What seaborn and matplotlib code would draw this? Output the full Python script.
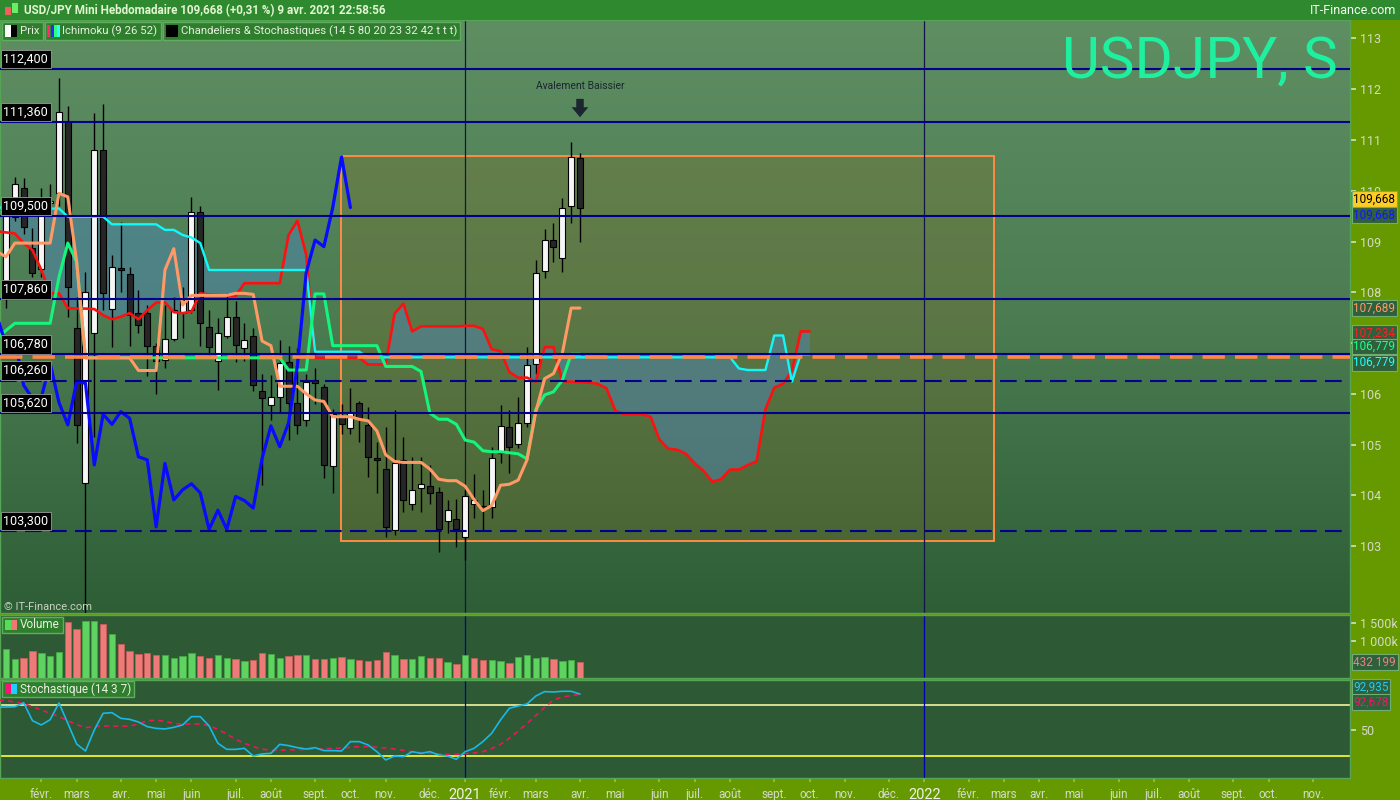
import numpy as np
import pandas as pd
import matplotlib
matplotlib.use("Agg")
import matplotlib.pyplot as plt
from matplotlib.patches import Rectangle
from matplotlib.colors import LinearSegmentedColormap
import seaborn as sns

#------------------------ DONNEES (bougies hebdo, 1re = semaine du 6 janv. 2020)
first_week = "2020-01-06"

opens = [108.1, 109.49, 110.05, 108.87, 108.45, 109.75, 109.95, 111.36, 107.3, 104.25,
         107.2, 110.8, 107.68, 108.45, 108.37, 107.6, 107.6, 106.95, 106.67, 107.09,
         107.6, 107.65, 109.59, 107.32, 106.65, 107.14, 107.51, 106.9, 107.14, 106.06,
         105.78, 105.94, 106.63, 105.83, 105.49, 106.27, 106.14, 104.57, 105.55, 105.32,
         105.83, 105.39, 104.72, 104.53, 103.32, 104.7, 103.84, 104.14, 104.19, 104.07,
         103.5, 103.54, 103.19, 103.83, 103.79, 103.78, 104.83, 105.34, 105.01, 105.42,
         106.59, 108.42, 109.03, 108.67, 109.71, 110.64]
highs = [109.7, 110.28, 110.25, 109.26, 110.05, 110.13, 112.22, 111.67, 107.9, 108.4,
         111.53, 111.71, 108.74, 109.39, 108.5, 108.05, 107.75, 107.0, 107.75, 107.9,
         108.1, 109.87, 109.7, 107.65, 107.5, 107.98, 107.82, 107.4, 107.3, 106.4,
         106.37, 107.06, 106.95, 106.9, 106.4, 106.5, 106.2, 105.7, 105.8, 106.11,
         105.85, 105.75, 105.06, 105.35, 105.68, 105.16, 104.76, 104.76, 104.6, 104.17,
         103.91, 103.92, 104.1, 104.42, 104.1, 104.96, 105.78, 105.68, 105.94, 106.93,
         108.64, 109.24, 109.36, 109.85, 110.97, 110.74]
lows = [107.7, 109.4, 109.15, 108.3, 108.3, 109.55, 109.7, 107.52, 105.03, 101.2,
        105.16, 107.65, 106.93, 108.0, 106.95, 107.2, 106.35, 106.0, 106.5, 107.05,
        107.1, 107.6, 106.95, 106.73, 106.08, 107.1, 106.63, 106.65, 106.05, 104.2,
        105.49, 105.62, 105.09, 105.2, 105.36, 105.8, 104.35, 104.04, 105.2, 105.2,
        105.06, 104.37, 104.04, 103.19, 103.22, 103.68, 103.71, 103.68, 103.84, 102.89,
        103.25, 102.98, 102.73, 103.55, 103.32, 103.55, 104.63, 104.44, 104.93, 105.35,
        106.4, 108.28, 108.6, 108.41, 109.37, 109.0]
closes = [109.5, 110.13, 109.29, 108.38, 109.77, 109.8, 111.56, 108.11, 105.39, 108.0,
          110.8, 107.99, 108.5, 108.44, 107.55, 107.35, 106.95, 106.65, 107.09, 107.65,
          107.85, 109.59, 107.4, 106.93, 107.2, 107.52, 106.96, 107.06, 106.17, 105.91,
          105.93, 106.6, 105.83, 105.39, 106.24, 106.21, 104.6, 105.6, 105.4, 105.65,
          105.52, 104.76, 104.7, 103.38, 104.63, 103.91, 104.11, 104.23, 104.05, 103.33,
          103.71, 103.33, 103.98, 103.9, 103.75, 104.73, 105.37, 104.96, 105.43, 106.56,
          108.39, 109.03, 108.9, 109.67, 110.67, 109.67]

# volume en milliers
volumes_k = [790, 526, 553, 737, 684, 596, 710, 1526, 1342, 1553,
             1553, 1474, 1211, 921, 737, 658, 684, 632, 632, 553,
             605, 684, 605, 553, 632, 553, 526, 474, 500, 684,
             658, 553, 605, 632, 632, 526, 526, 553, 579, 526,
             500, 474, 500, 710, 632, 526, 526, 605, 553, 553,
             447, 368, 632, 553, 500, 500, 474, 421, 579, 632,
             553, 579, 526, 474, 500, 432]

# Ichimoku, semaine -1 .. 65
tenkan = [108.8, 108.7, 108.97, 108.97, 108.97, 108.97, 108.97, 109.95, 109.88, 108.6,
          106.71, 106.71, 106.71, 106.71, 106.71, 106.71, 106.46, 106.46, 106.46, 108.44,
          108.86, 107.75, 107.94, 107.94, 107.94, 107.94, 107.94, 107.98, 107.98, 107.96,
          107.04, 106.95, 106.15, 106.15, 106.15, 106.0, 105.88, 105.85, 105.55, 105.55,
          105.55, 105.5, 105.47, 105.27, 104.8, 104.67, 104.65, 104.65, 104.65, 104.52,
          104.32, 104.29, 104.29, 104.18, 103.92, 103.7, 103.8, 104.2, 104.22, 104.3,
          104.7, 105.65, 106.3, 106.4, 106.8, 107.69, 107.69]
kijun = ([107.1, 107.25, 107.39, 107.39, 107.39, 107.39, 107.39, 108.3, 108.97, 108.6]
         + [106.71] * 23 + [106.47] * 3 + [107.97] * 2 + [106.95] * 6 + [106.54] * 4
         + [106.44, 105.62, 105.5, 105.5, 105.4, 105.09, 105.05, 104.88, 104.86, 104.86,
            104.84, 104.82, 104.72, 105.69, 105.98, 106.04, 106.27, 106.78, 106.78])

# nuage, semaine -1 .. 91
senkou_a = [109.2, 109.18, 109.16, 108.97, 108.83, 108.44, 107.98, 107.98, 107.69, 107.68,
            107.68, 107.67, 107.55, 107.47, 107.52, 107.59, 107.47, 107.65, 107.8, 107.8,
            107.61, 107.59, 107.62, 107.98, 107.96, 107.95, 107.94, 107.93, 108.18, 108.18,
            108.18, 108.18, 108.18, 109.13, 109.41, 108.74,
            106.71, 106.71, 106.71, 106.71, 106.71, 106.71, 106.58, 106.58, 106.58, 107.58,
            107.78, 107.23, 107.33, 107.33, 107.33, 107.33, 107.33, 107.34, 107.34, 107.28,
            106.88, 106.84, 106.43, 106.32, 106.32, 106.24, 106.92, 106.92, 106.25, 106.24,
            106.23, 106.22, 106.2, 106.11, 105.67, 105.6, 105.6, 105.6, 105.55, 105.1,
            104.92, 104.9, 104.82, 104.63, 104.48, 104.27, 104.32, 104.51, 104.51, 104.6,
            104.67, 105.7, 106.12, 106.2, 106.45, 107.23, 107.23]
senkou_b = ([109.67] * 6 + [109.65] * 2 + [109.49] * 5 + [109.34] * 6 + [109.23] * 2
            + [109.13, 109.08, 108.97] + [108.44] * 12 + [106.83] * 6 + [106.72] * 42
            + [106.5, 106.47, 106.47, 106.47, 107.15, 107.15, 106.24, 106.78, 106.78])

# stochastique, semaine -1 .. 65
stoch_k = [77.2, 77.6, 77.9, 82.6, 61.5, 56.5, 62.7, 82.4, 58.4, 34.1, 25.9,
           50.6, 70.2, 71.0, 64.3, 63.1, 60.0, 54.5, 52.5, 51.8, 53.7,
           56.5, 66.3, 66.3, 55.3, 34.9, 27.8, 27.8, 29.0, 20.0, 22.4,
           23.1, 33.7, 32.2, 29.8, 28.2, 29.8, 26.3, 26.3, 25.9, 36.9,
           36.9, 33.0, 25.1, 15.3, 20.0, 19.2, 25.1, 23.1, 25.1, 21.2,
           20.0, 16.1, 25.1, 29.0, 36.9, 46.7, 62.4, 76.1, 78.8, 81.2,
           90.6, 95.7, 95.3, 96.1, 96.1, 92.9]
stoch_d = [86.0, 85.1, 83.5, 81.5, 78.0, 74.1, 70.2, 66.3, 61.6, 56.9, 53.3,
           54.5, 55.3, 55.3, 54.9, 55.3, 57.6, 61.6, 62.0, 60.8, 58.4,
           57.3, 57.6, 57.6, 55.7, 51.3, 45.9, 39.6, 34.9, 31.0, 28.2,
           26.7, 26.7, 27.1, 27.5, 27.8, 28.2, 28.6, 29.0, 29.4, 30.2,
           31.0, 31.0, 30.2, 29.4, 28.2, 26.7, 25.1, 23.9, 23.1, 22.4,
           22.0, 22.0, 22.7, 23.5, 25.1, 28.6, 33.7, 40.8, 49.4, 58.4,
           67.5, 77.3, 85.9, 89.4, 91.0, 92.7]

levels_solid = [112.40, 111.36, 109.50, 107.86, 106.78, 105.62]
levels_dashed = [106.26, 103.30]
level_orange = 106.72
box_weeks = [37.9, 111.9]
box_prices = [103.1, 110.69]
last_price = 109.668

price_ticks = list(range(103, 114))
price_tick_labels = ["103", "104", "105", "106", "", "108", "109", "110", "111", "112", "113"]

month_names = {2: "févr.", 3: "mars", 4: "avr.", 5: "mai", 6: "juin", 7: "juil.",
               8: "août", 9: "sept.", 10: "oct.", 11: "nov.", 12: "déc."}

#------------------------ AXE DES TEMPS (1re bougie de chaque mois)
t0 = pd.Timestamp(first_week)
tick_pos, tick_lab = [], []
for m in pd.date_range("2020-02-01", "2022-11-01", freq="MS"):
    monday = m + pd.Timedelta(days=(7 - m.weekday()) % 7)
    tick_pos.append((monday - t0).days / 7)
    tick_lab.append(str(m.year) if m.month == 1 else month_names[m.month])
year_pos = [p for p, l in zip(tick_pos, tick_lab) if l.isdigit()]

#------------------------ FIGURE
sns.set_theme(style="dark")
plt.rcParams["font.family"] = ["Roboto", "DejaVu Sans"]

W, H = 1400, 800
fig = plt.figure(figsize=(W / 100, H / 100), dpi=100, facecolor="#669900")


def rect(x0, y0, x1, y1):
    return [x0 / W, 1 - y1 / H, (x1 - x0) / W, (y1 - y0) / H]


ax_p = fig.add_axes(rect(0, 20, 1350, 613))
ax_v = fig.add_axes(rect(0, 615, 1350, 678), sharex=ax_p)
ax_s = fig.add_axes(rect(0, 680, 1350, 778), sharex=ax_p)

x_lo, x_hi = -0.68, 152.2
y_lo, y_hi = 101.684, 113.364

# fond dégradé
bg = LinearSegmentedColormap.from_list("bg", ["#2e5e36", "#4c7c52", "#5e8e62"])
ax_p.imshow(np.linspace(0, 1, 256).reshape(-1, 1), cmap=bg, aspect="auto", origin="lower",
            extent=(x_lo, x_hi, y_lo, y_hi), zorder=0, interpolation="bilinear")

# rectangle orange
ax_p.add_patch(Rectangle((box_weeks[0], box_prices[0]), box_weeks[1] - box_weeks[0],
                         box_prices[1] - box_prices[0], fc="#8f6a1c", alpha=0.24,
                         ec="none", zorder=1))
ax_p.add_patch(Rectangle((box_weeks[0], box_prices[0]), box_weeks[1] - box_weeks[0],
                         box_prices[1] - box_prices[0], fill=False, ec="#ff8c42",
                         lw=1.4, zorder=1.5))

# nuage
n_cloud = min(len(senkou_a), len(senkou_b))
x_cloud = np.arange(n_cloud) - 1
sa = np.array(senkou_a[:n_cloud])
sb = np.array(senkou_b[:n_cloud])
ax_p.fill_between(x_cloud, sa, sb, color="#4e86b6", alpha=0.5, lw=0, zorder=2)

# bougies
o, h, l, c = map(np.array, (opens, highs, lows, closes))
xc = np.arange(len(c))
up = c >= o
ax_p.vlines(xc, l, h, color="black", lw=1, zorder=3)
ax_p.bar(xc, np.maximum(np.abs(c - o), 0.03), bottom=np.minimum(o, c), width=0.68,
         color=np.where(up, "#f6f6f6", "#262626"), edgecolor="black", linewidth=0.8, zorder=3.2)

# lignes Ichimoku
sns.lineplot(x=x_cloud, y=sa, ax=ax_p, color="#ff1010", lw=1.9, sort=False, estimator=None, zorder=4)
sns.lineplot(x=x_cloud, y=sb, ax=ax_p, color="#10f8f8", lw=1.7, sort=False, estimator=None, zorder=4)
sns.lineplot(x=np.arange(len(kijun)) - 1, y=kijun, ax=ax_p, color="#14f57c", lw=2.2,
             sort=False, estimator=None, zorder=4.2)
sns.lineplot(x=np.arange(len(tenkan)) - 1, y=tenkan, ax=ax_p, color="#ff9a66", lw=2.2,
             sort=False, estimator=None, zorder=4.3)
chikou = closes[25:]
sns.lineplot(x=np.arange(len(chikou)) - 1, y=chikou, ax=ax_p, color="#0a0aff", lw=2.3,
             sort=False, estimator=None, zorder=4.4)

# niveaux
ax_p.axhline(level_orange, color="#ff8844", lw=2.6, ls=(0, (6.2, 2.8)), zorder=5)
for lv in levels_solid:
    ax_p.axhline(lv, color="#000090", lw=1.5, zorder=6)
for lv in levels_dashed:
    ax_p.axhline(lv, color="#000090", lw=1.5, ls=(0, (8, 4)), zorder=6)
for lv in levels_solid + levels_dashed:
    ax_p.annotate(f"{lv:.3f}".replace(".", ","), xy=(0, lv), xycoords=("axes fraction", "data"),
                  xytext=(2.5, 2.5), textcoords="offset points", ha="left", va="bottom",
                  fontsize=9, color="white", zorder=8,
                  bbox=dict(boxstyle="square,pad=0.22", fc="black", ec="#9a9a9a", lw=0.6))

# volume
prev = np.r_[c[0] - 1, c[:-1]]
vol_col = np.where(c >= prev, "#5fd35f", "#ee7b78")
ax_v.set_facecolor("#2d5934")
ax_v.bar(xc, volumes_k, width=0.72, color=vol_col, edgecolor=np.where(c >= prev, "#43a843", "#c45e5b"),
         linewidth=0.6, zorder=3)

# stochastique
ax_s.set_facecolor("#2d5934")
ax_s.axhline(80, color="#f3f3a0", lw=1.2, zorder=2)
ax_s.axhline(20, color="#ffff33", lw=1.2, zorder=2)
sns.lineplot(x=np.arange(len(stoch_d)) - 1, y=stoch_d, ax=ax_s, color="#f0145a", lw=1.2,
             ls=(0, (3, 2.5)), sort=False, estimator=None, zorder=3)
sns.lineplot(x=np.arange(len(stoch_k)) - 1, y=stoch_k, ax=ax_s, color="#1ab8e8", lw=1.2,
             sort=False, estimator=None, zorder=4)

# séparateurs d'années
for ax, col in ((ax_p, "#14144a"), (ax_v, "#0000b0"), (ax_s, "#0000b0")):
    for yp in year_pos:
        ax.axvline(yp, color=col, lw=0.9, zorder=2.5)

#------------------------ AXES
lab_col = "#d4dac8"
for ax in (ax_p, ax_v, ax_s):
    ax.grid(False)
    for s in ax.spines.values():
        s.set_color("#55a555")
        s.set_linewidth(1)
    ax.yaxis.tick_right()
    ax.tick_params(axis="y", which="both", left=False, labelleft=False, right=True,
                   labelright=True, colors=lab_col, labelsize=9, length=4, pad=3)
    ax.tick_params(axis="x", bottom=False, labelbottom=False)

ax_p.set_xlim(x_lo, x_hi)
ax_p.set_ylim(y_lo, y_hi)
ax_p.set_yticks(price_ticks, price_tick_labels)
ax_v.set_ylim(0, 1717)
ax_v.set_yticks([1000, 1500], ["1 000k", "1 500k"])
ax_s.set_ylim(-5.9, 109.4)
ax_s.set_yticks([50], ["50"])

ax_s.set_xticks(tick_pos, tick_lab)
ax_s.tick_params(axis="x", bottom=True, labelbottom=True, labelsize=8.5, labelcolor=lab_col,
                 color="#8fc24f", length=3, pad=4)
for t in ax_s.get_xticklabels():
    if t.get_text().isdigit():
        t.set_fontsize(10.5)
        t.set_color("#eef2e6")


def value_tag(ax, value, text, color, face="#2f5f3c", dy=0):
    ax.annotate(text, xy=(1, value), xycoords=("axes fraction", "data"), xytext=(2.5, dy),
                textcoords="offset points", ha="left", va="center", fontsize=8.5, color=color,
                annotation_clip=False, zorder=10,
                bbox=dict(boxstyle="square,pad=0.12", fc=face, ec="#6fae6f", lw=0.8))


fmt = lambda v: f"{v:.3f}".replace(".", ",")
value_tag(ax_p, last_price, fmt(last_price), "black", face="#ffcc22", dy=6.2)
value_tag(ax_p, last_price, fmt(last_price), "#1414ff", dy=-5.4)
value_tag(ax_p, tenkan[-1], "107,689", "#ff9a66")
value_tag(ax_p, senkou_a[-1], "107,234", "#ff2020", dy=-1)
value_tag(ax_p, kijun[-1], "106,779", "#22ff88", dy=5.6)
value_tag(ax_p, senkou_b[-1], "106,779", "#22ffff", dy=-6.0)
value_tag(ax_v, volumes_k[-1], "432 199", "#f08080")
value_tag(ax_s, stoch_k[-1], "92,935", "#22ccee", dy=5.0)
value_tag(ax_s, stoch_d[-1], "92,678", "#ff1166", dy=-5.6)

# signal chandelier
ax_p.annotate("Avalement Baissier", xy=(len(c) - 1, 0.888), xycoords=("data", "axes fraction"),
              ha="center", va="center", fontsize=7.5, color="#1c2630", zorder=9)
ax_p.annotate("", xy=(len(c) - 1, 0.836), xycoords=("data", "axes fraction"),
              xytext=(len(c) - 1, 0.867), textcoords=("data", "axes fraction"),
              arrowprops=dict(arrowstyle="simple,head_width=1.0,head_length=0.6,tail_width=0.45",
                              color="#1c2630", lw=0, shrinkA=0, shrinkB=0), zorder=9)

#------------------------ BANDEAUX
def fig_rect(x0, y0, x1, y1, fc, ec="none", z=5):
    fig.patches.append(Rectangle((x0 / W, 1 - y1 / H), (x1 - x0) / W, (y1 - y0) / H,
                                 transform=fig.transFigure, fc=fc, ec=ec, lw=1, zorder=z))


fig_rect(0, 0, 1400, 20, "#2f8a2f")
fig_rect(5, 7, 11, 15, "#ee6060", z=6)
fig_rect(12, 3, 18, 13, "#66ee66", z=6)
fig.text(24 / W, 1 - 10.5 / H, "USD/JPY Mini Hebdomadaire 109,668 (+0,31 %) 9 avr. 2021 22:58:56",
         ha="left", va="center", fontsize=8.4, fontweight="semibold", color="#e2f6d2", zorder=7)
fig.text(1396 / W, 1 - 10.5 / H, "IT-Finance.com", ha="right", va="center", fontsize=9,
         color="#f4fff0", zorder=7)

renderer = fig.canvas.get_renderer()


def tag(x0, y0, y1, label, icon, fs=8.2):
    n = len(icon)
    for k, col in enumerate(icon):
        fig_rect(x0 + 3 + k * 12 / n, y0 + 3, x0 + 3 + (k + 1) * 12 / n, y1 - 3, col, z=6)
    t = fig.text((x0 + 18) / W, 1 - (y0 + y1) / 2 / H, label, ha="left", va="center",
                 fontsize=fs, color="#e8f0e0", zorder=7)
    x1 = t.get_window_extent(renderer).x1 + 3
    fig_rect(x0, y0, x1, y1, "#2e7e2e", ec="#5fae5f", z=5)
    return x1


xe = tag(2, 22, 40, "Prix", ["white", "black"])
xe = tag(xe + 2, 22, 40, "Ichimoku (9 26 52)", ["#ff2a6a", "#2a2aff", "#2aff80", "#2affff"])
tag(xe + 2, 22, 40, "Chandeliers & Stochastiques (14 5 80 20 23 32 42 t t t)", ["black"])
tag(2, 617, 633, "Volume", ["#55dd55", "#ee7777"], fs=8.5)
tag(2, 681, 697, "Stochastique (14 3 7)", ["#ff1177", "#22ccff"], fs=8.5)

fig.text(4 / W, 1 - 607 / H, "© IT-Finance.com", ha="left", va="center", fontsize=8,
         color="#c8d2c0", zorder=7)
fig.text(1338 / W, 1 - 62 / H, "USDJPY, S", ha="right", va="center", fontsize=42,
         color="#1ff0a0", fontweight="normal", zorder=7)

fig.savefig("out.png", dpi=100, facecolor=fig.get_facecolor())
